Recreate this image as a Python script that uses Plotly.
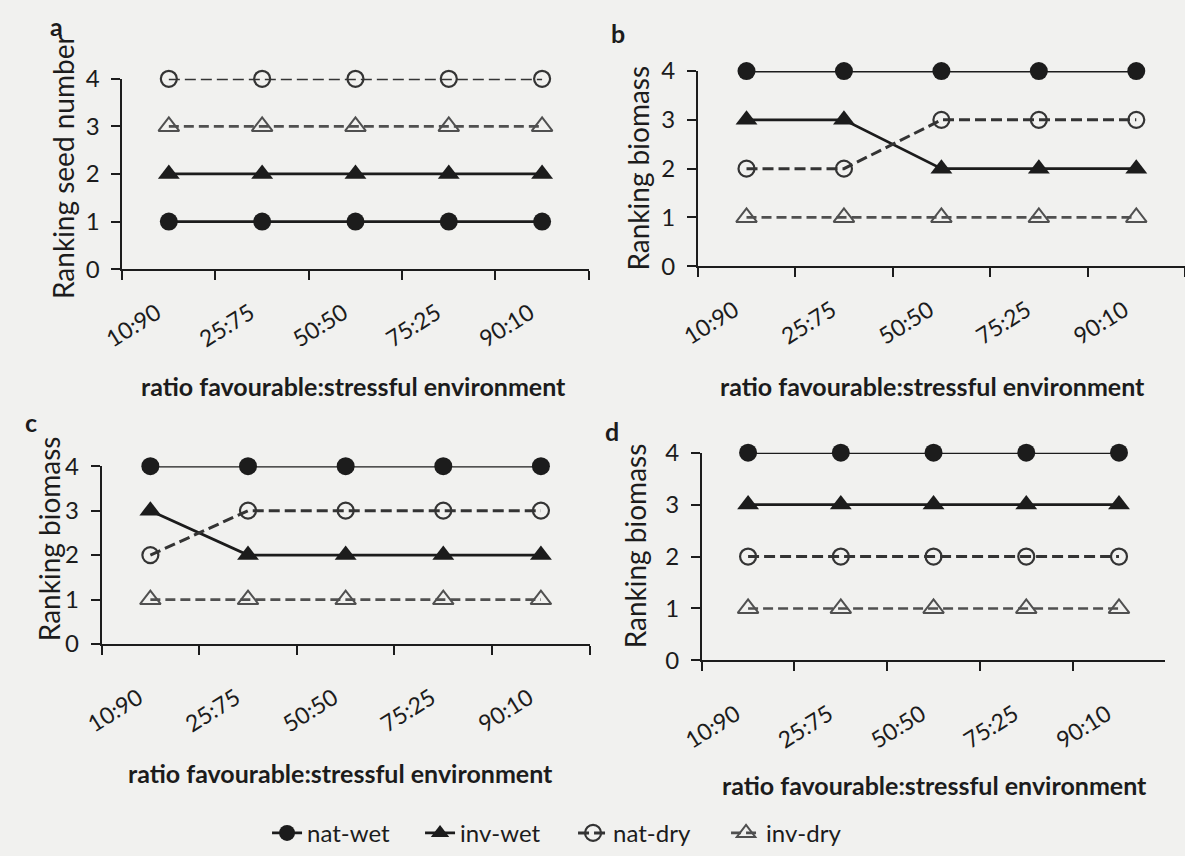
import plotly.graph_objects as go

# Mixture ratios (favourable:stressful)
categories = ["10:90", "25:75", "50:50", "75:25", "90:10"]
y_ticks = [0, 1, 2, 3, 4]

# Rankings per panel
a_nat_wet = [1, 1, 1, 1, 1]
a_inv_wet = [2, 2, 2, 2, 2]
a_nat_dry = [4, 4, 4, 4, 4]
a_inv_dry = [3, 3, 3, 3, 3]

b_nat_wet = [4, 4, 4, 4, 4]
b_inv_wet = [3, 3, 2, 2, 2]
b_nat_dry = [2, 2, 3, 3, 3]
b_inv_dry = [1, 1, 1, 1, 1]

c_nat_wet = [4, 4, 4, 4, 4]
c_inv_wet = [3, 2, 2, 2, 2]
c_nat_dry = [2, 3, 3, 3, 3]
c_inv_dry = [1, 1, 1, 1, 1]

d_nat_wet = [4, 4, 4, 4, 4]
d_inv_wet = [3, 3, 3, 3, 3]
d_nat_dry = [2, 2, 2, 2, 2]
d_inv_dry = [1, 1, 1, 1, 1]

series_names = ["nat-wet", "inv-wet", "nat-dry", "inv-dry"]
panel_letters = ["a", "b", "c", "d"]
y_titles = ["Ranking seed number", "Ranking biomass", "Ranking biomass", "Ranking biomass"]
x_title = "ratio favourable:stressful environment"

panel_data = [
    [a_nat_wet, a_inv_wet, a_nat_dry, a_inv_dry],
    [b_nat_wet, b_inv_wet, b_nat_dry, b_inv_dry],
    [c_nat_wet, c_inv_wet, c_nat_dry, c_inv_dry],
    [d_nat_wet, d_inv_wet, d_nat_dry, d_inv_dry],
]

W, H = 1185, 856
FONT = "Lato"
INK = "#1c1c1c"

# Series styles
styles = {
    "nat-wet": dict(line=dict(color=INK, width=2.8),
                    marker=dict(symbol="circle", size=18, color=INK)),
    "inv-wet": dict(line=dict(color=INK, width=2.8),
                    marker=dict(symbol="triangle-up", size=19, color=INK)),
    "nat-dry": dict(line=dict(color="#343434", width=3, dash="11px,5px"),
                    marker=dict(symbol="circle-open", size=16, color="#343434",
                                line=dict(width=2.2, color="#343434"))),
    "inv-dry": dict(line=dict(color="#505050", width=2.7, dash="10px,5px"),
                    marker=dict(symbol="triangle-up-open", size=18, color="#505050",
                                line=dict(width=2, color="#505050"))),
}

# Panel geometry in pixels: y-axis x, x-axis right end, y of value 4, y of value 0
panels = [
    dict(x0=103, x1=578, ytop=65, ybot=262, standoff=20,
         letter=(36, 10), ytitle=(42, 156), xtitle=(338, 383)),
    dict(x0=689, x1=1185, ytop=57, ybot=259, standoff=20,
         letter=(608, 18), ytitle=(628, 157), xtitle=(928, 383)),
    dict(x0=82, x1=579, ytop=466, ybot=650, standoff=30,
         letter=(10, 420), ytitle=(28, 541), xtitle=(325, 784)),
    dict(x0=693, x1=1165, ytop=452, ybot=667, standoff=30,
         letter=(602, 430), ytitle=(626, 548), xtitle=(930, 796)),
]


def fx(px):
    return px / W


def fy(py):
    return 1 - py / H


fig = go.Figure()
annotations = []

for i, (geo, data) in enumerate(zip(panels, panel_data)):
    n = i + 1
    xa = "x" if n == 1 else f"x{n}"
    ya = "y" if n == 1 else f"y{n}"
    for name, vals in zip(series_names, data):
        fig.add_trace(go.Scatter(
            x=categories, y=vals, name=name, mode="lines+markers",
            xaxis=xa, yaxis=ya, cliponaxis=False,
            showlegend=(n == 1), legendgroup=name,
            **styles[name],
        ))

    axis_x = dict(
        domain=[fx(geo["x0"]), fx(geo["x1"])], anchor=ya,
        type="category", categoryorder="array", categoryarray=categories,
        range=[-0.5, 4.5], tickson="boundaries", ticks="outside",
        ticklen=9, tickwidth=1.6, tickcolor=INK,
        showline=True, linecolor=INK, linewidth=1.6, showgrid=False,
        zeroline=False, tickangle=-32, ticklabelstandoff=geo["standoff"],
        ticklabelshift=-12,
        tickfont=dict(family=FONT, size=23, color=INK),
    )
    axis_y = dict(
        domain=[fy(geo["ybot"]), fy(geo["ytop"])], anchor=xa,
        range=[0, 4], tickvals=y_ticks, ticks="outside",
        ticklen=9, tickwidth=1.6, tickcolor=INK,
        showline=True, linecolor=INK, linewidth=1.6, showgrid=False,
        zeroline=False, ticklabelstandoff=7,
        tickfont=dict(family=FONT, size=24, color=INK),
    )
    fig.update_layout(**{
        ("xaxis" if n == 1 else f"xaxis{n}"): axis_x,
        ("yaxis" if n == 1 else f"yaxis{n}"): axis_y,
    })

    lx, ly = geo["letter"]
    annotations.append(dict(
        text=f"<b>{panel_letters[i]}</b>", x=fx(lx), y=fy(ly),
        xref="paper", yref="paper", showarrow=False,
        xanchor="center", yanchor="middle",
        font=dict(family=FONT, size=25, color=INK)))
    tx, ty = geo["ytitle"]
    annotations.append(dict(
        text=y_titles[i], x=fx(tx), y=fy(ty), textangle=-90,
        xref="paper", yref="paper", showarrow=False,
        xanchor="center", yanchor="middle",
        font=dict(family=FONT, size=28, color=INK)))
    hx, hy = geo["xtitle"]
    annotations.append(dict(
        text=f"<b>{x_title}</b>", x=fx(hx), y=fy(hy),
        xref="paper", yref="paper", showarrow=False,
        xanchor="center", yanchor="middle",
        font=dict(family=FONT, size=25, color=INK)))

fig.update_layout(
    width=W, height=H,
    margin=dict(l=0, r=0, t=0, b=0),
    paper_bgcolor="#f1f1ef", plot_bgcolor="rgba(0,0,0,0)",
    annotations=annotations,
    showlegend=True,
    legend=dict(
        orientation="h", x=fx(562), xanchor="center",
        y=fy(846), yanchor="middle",
        font=dict(family=FONT, size=24, color=INK),
        bgcolor="rgba(0,0,0,0)", itemwidth=30, tracegroupgap=0,
        entrywidth=108, entrywidthmode="pixels",
    ),
)

fig.write_html("out.html")
